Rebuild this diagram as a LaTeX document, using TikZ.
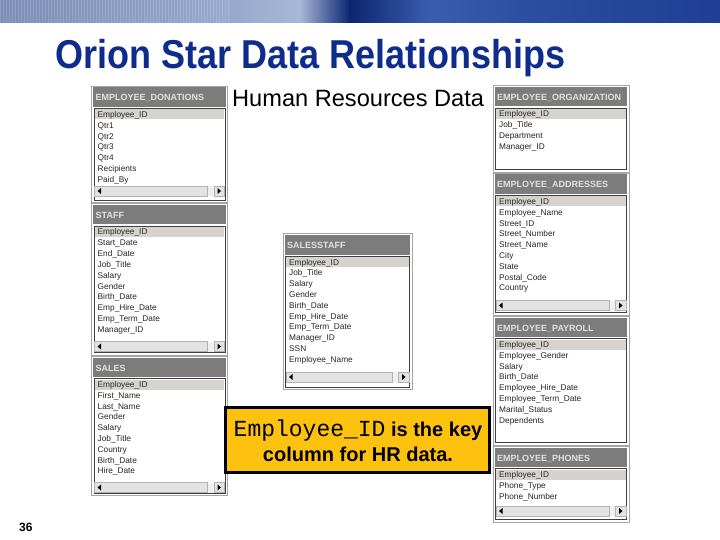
\documentclass[tikz,border=0pt]{standalone}
\usepackage{fontspec}
\setmainfont{Liberation Sans}
\setmonofont{Liberation Mono}
\definecolor{titleblue}{RGB}{14,44,140}
\definecolor{hdr}{RGB}{124,124,124}
\definecolor{hdrtext}{RGB}{225,225,225}
\definecolor{hl}{RGB}{214,211,206}
\definecolor{keyyellow}{RGB}{252,194,14}
\definecolor{bnA}{RGB}{122,140,180}
\definecolor{bnB}{RGB}{150,168,203}
\definecolor{bnC}{RGB}{168,184,214}
\definecolor{bnD}{RGB}{12,37,112}
\definecolor{bnE}{RGB}{58,94,174}
\definecolor{bnF}{RGB}{43,78,160}
\definecolor{bnG}{RGB}{30,63,147}
\tikzset{
  tframe/.style={draw=gray!70, line width=0.8pt, fill=white},
  thead/.style={fill=hdr},
  ttitle/.style={anchor=base west, inner sep=0pt, text=hdrtext, font=\fontsize{9}{10}\selectfont\bfseries},
  tlist/.style={draw=gray!50!black, line width=0.7pt, fill=white},
  thl/.style={fill=hl},
  titem/.style={anchor=base west, inner sep=0pt, text=black!85, font=\fontsize{8.3}{10}\selectfont},
  sbtrack/.style={fill=gray!12},
  sbthumb/.style={fill=gray!22, draw=gray!60, line width=0.5pt},
  sbbtn/.style={fill=gray!22, draw=gray!60, line width=0.5pt},
}
% #1 name, #2 x1, #3 y1, #4 x2, #5 y2, #6 title, #7 items, #8 scrollbar centre y (0 = none)
\newcommand{\dbtab}[8]{%
  \draw[tframe] (#2,#3) rectangle (#4,#5);
  \fill[thead] (#2+1.5,#3+1.5) rectangle (#4-2,#3+21);
  \node[ttitle] (#1-t) at (#2+4,#3+15) {#6};
  \draw[tlist] (#2+2.5,#3+22.5) rectangle (#4-2.5,#5-2.5);
  \fill[thl] (#2+3.2,#3+23.5) rectangle (#4-3.5,#3+33.5);
  \foreach \itm [count=\i] in {#7}
    \node[titem] (#1-\i) at (#2+6,#3+31.5+10.8*\i-10.8) {\itm};
  \ifdim#8pt>0pt
    \fill[sbtrack] (#2+3.2,#8-5) rectangle (#4-3.2,#8+5);
    \draw[sbthumb] (#2+3.2,#8-5) rectangle (#4-20,#8+5);
    \fill (#2+6,#8) -- (#2+9.5,#8-3) -- (#2+9.5,#8+3) -- cycle;
    \draw[sbbtn] (#4-13.5,#8-5) rectangle (#4-3.2,#8+5);
    \fill (#4-6.5,#8) -- (#4-10,#8-3) -- (#4-10,#8+3) -- cycle;
  \fi
}
\begin{document}
\begin{tikzpicture}[x=1pt,y=-1pt]
\useasboundingbox[fill=white] (0,0) rectangle (720,540);
% banner
\shade[left color=bnA, right color=bnB] (0,0) rectangle (230,23);
\foreach \x in {0,3,...,228} \draw[white, opacity=0.18, line width=0.8pt] (\x,0) -- (\x,23);
\shade[left color=bnB, right color=bnC] (230,0) rectangle (300,23);
\shade[left color=bnC, right color=bnD] (299.5,0) rectangle (350,23);
\shade[left color=bnD, right color=bnE] (349.5,0) rectangle (430,23);
\shade[left color=bnE, right color=bnF] (429.5,0) rectangle (530,23);
\shade[left color=bnF, right color=bnG] (529.5,0) rectangle (720,23);
% title
\node[anchor=base west, inner sep=0pt, text=titleblue, font=\fontsize{36}{40}\selectfont\bfseries] (title) at (55,69) {\scalebox{1}[1.12]{Orion Star Data Relationships}};
\node[anchor=base west, inner sep=0pt, font=\fontsize{23.6}{26}\selectfont] (hr) at (232,107) {Human Resources Data};
% left column
\dbtab{don}{91.5}{86}{227.5}{202.5}{EMPLOYEE\_DONATIONS}{Employee\_ID,Qtr1,Qtr2,Qtr3,Qtr4,Recipients,Paid\_By}{191}
\dbtab{staff}{91.5}{203.5}{227.5}{355}{STAFF}{Employee\_ID,Start\_Date,End\_Date,Job\_Title,Salary,Gender,Birth\_Date,Emp\_Hire\_Date,Emp\_Term\_Date,Manager\_ID}{346.5}
\dbtab{sales}{91.5}{356}{227.5}{495.5}{SALES}{Employee\_ID,First\_Name,Last\_Name,Gender,Salary,Job\_Title,Country,Birth\_Date,Hire\_Date}{487.5}
% middle
\dbtab{ss}{283}{233.5}{412}{389.5}{SALESSTAFF}{Employee\_ID,Job\_Title,Salary,Gender,Birth\_Date,Emp\_Hire\_Date,Emp\_Term\_Date,Manager\_ID,SSN,Employee\_Name}{377}
% right column
\dbtab{org}{493}{85.5}{629}{172}{EMPLOYEE\_ORGANIZATION}{Employee\_ID,Job\_Title,Department,Manager\_ID}{0}
\dbtab{addr}{493}{173}{629}{315}{EMPLOYEE\_ADDRESSES}{Employee\_ID,Employee\_Name,Street\_ID,Street\_Number,Street\_Name,City,State,Postal\_Code,Country}{305.5}
\dbtab{pay}{493}{316}{629}{445}{EMPLOYEE\_PAYROLL}{Employee\_ID,Employee\_Gender,Salary,Birth\_Date,Employee\_Hire\_Date,Employee\_Term\_Date,Marital\_Status,Dependents}{0}
\dbtab{ph}{493}{446}{629}{522}{EMPLOYEE\_PHONES}{Employee\_ID,Phone\_Type,Phone\_Number}{511}
% key box
\draw[line width=3pt, fill=keyyellow] (225.5,407.5) rectangle (489.2,472.5);
\node[anchor=base, inner sep=0pt] (key1) at (358,436) {\fontsize{23}{26}\selectfont\ttfamily Employee\_ID\fontsize{20}{24}\selectfont\rmfamily\bfseries{} is the key};
\node[anchor=base, inner sep=0pt, font=\fontsize{20}{24}\selectfont\bfseries] (key2) at (358,461) {column for HR data.};
% page number
\node[anchor=base west, inner sep=0pt, font=\fontsize{12}{14}\selectfont\bfseries] (pg) at (19,531) {36};
\end{tikzpicture}
\end{document}
